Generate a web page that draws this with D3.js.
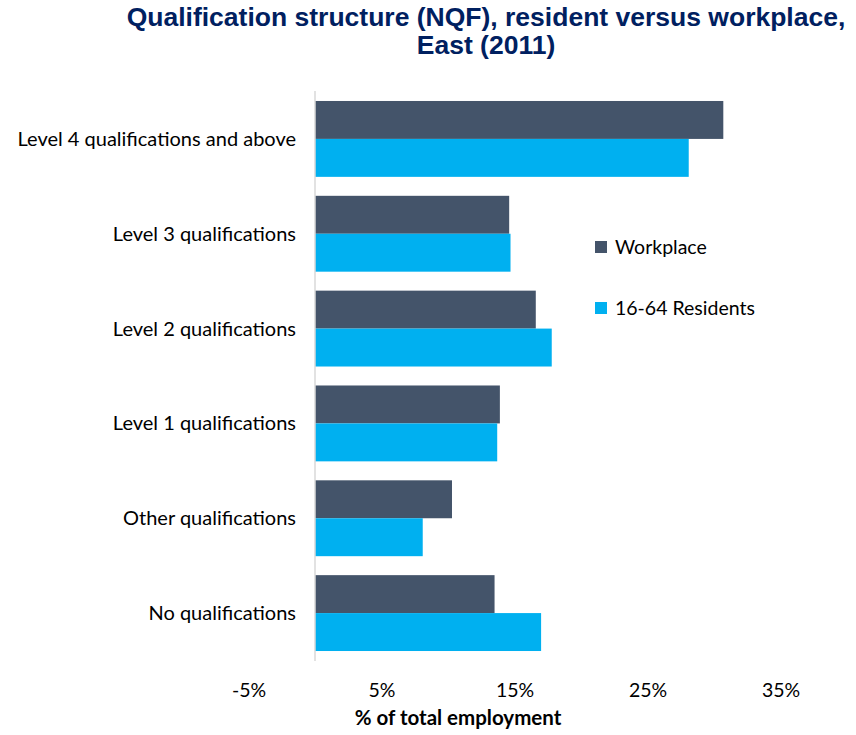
<!DOCTYPE html>
<html>
<head>
<meta charset="utf-8">
<script src="https://cdn.jsdelivr.net/npm/d3@7"></script>
<style>
  body { margin: 0; background: #fff; }
  text { font-family: Lato, "Open Sans", sans-serif; }
</style>
</head>
<body>
<div id="chart"></div>
<script>
// categories top to bottom
var categories = ["Level 4 qualifications and above", "Level 3 qualifications",
    "Level 2 qualifications", "Level 1 qualifications",
    "Other qualifications", "No qualifications"];
var series = ["Workplace", "16-64 Residents"];
var workplace = [30.7, 14.6, 16.6, 13.9, 10.3, 13.5];
var residents = [28.1, 14.7, 17.8, 13.7, 8.1, 17.0];
var tickValues = [-5, 5, 15, 25, 35];

var colors = {"Workplace": "#44546A", "16-64 Residents": "#00B0F0"};

var width = 856, height = 735;
var svg = d3.select("#chart").append("svg")
    .attr("width", width)
    .attr("height", height);

// title
var title = svg.append("text")
    .attr("text-anchor", "middle")
    .style("font-family", "'Liberation Sans', Arial, sans-serif")
    .style("font-weight", "bold")
    .style("font-size", "26.5px")
    .attr("fill", "#002060");
title.append("tspan").attr("x", 486).attr("y", 26)
    .text("Qualification structure (NQF), resident versus workplace,");
title.append("tspan").attr("x", 486).attr("y", 54)
    .text("East (2011)");

var x = d3.scaleLinear().domain([-5, 35]).range([248.5, 780.5]);
var y = d3.scaleBand().domain(categories).range([91.5, 660.5])
    .paddingInner(0.2).paddingOuter(0.1);
var ySub = d3.scaleBand().domain(series).range([0, y.bandwidth()]);

var rows = categories.map(function(c, i) {
    return {cat: c, values: [
        {key: "Workplace", value: workplace[i]},
        {key: "16-64 Residents", value: residents[i]}
    ]};
});

var groups = svg.append("g").selectAll("g")
    .data(rows).enter().append("g")
    .attr("transform", function(d) { return "translate(0," + y(d.cat) + ")"; });

groups.selectAll("rect")
    .data(function(d) { return d.values; })
    .enter().append("rect")
    .attr("x", x(0))
    .attr("y", function(d) { return ySub(d.key); })
    .attr("width", function(d) { return x(d.value) - x(0); })
    .attr("height", ySub.bandwidth())
    .attr("fill", function(d) { return colors[d.key]; });

// vertical axis line at 0
svg.append("line")
    .attr("x1", x(0)).attr("x2", x(0))
    .attr("y1", 91).attr("y2", 661)
    .attr("stroke", "#d9d9d9")
    .attr("stroke-width", 1.5);

// category labels
svg.append("g").selectAll("text")
    .data(categories).enter().append("text")
    .attr("x", 296)
    .attr("y", function(d) { return y(d) + y.bandwidth() / 2; })
    .attr("dy", "0.35em")
    .attr("text-anchor", "end")
    .style("font-size", "20px")
    .attr("fill", "#000")
    .text(function(d) { return d; });

// x axis
var xAxis = d3.axisBottom(x)
    .tickValues(tickValues)
    .tickSize(0)
    .tickFormat(function(d) { return d + "%"; });
var gx = svg.append("g")
    .attr("transform", "translate(0,680)")
    .call(xAxis);
gx.select(".domain").remove();
gx.selectAll("text")
    .style("font-family", "Lato, 'Open Sans', sans-serif")
    .style("font-size", "19.5px")
    .attr("fill", "#000");

svg.append("text")
    .attr("x", 458).attr("y", 725)
    .attr("text-anchor", "middle")
    .style("font-size", "20.5px")
    .style("font-weight", "bold")
    .attr("fill", "#000")
    .text("% of total employment");

// legend
var legend = svg.append("g").selectAll("g")
    .data(series).enter().append("g")
    .attr("transform", function(d, i) { return "translate(595," + (247 + i * 61) + ")"; });
legend.append("rect")
    .attr("x", 0).attr("y", -6)
    .attr("width", 12).attr("height", 12)
    .attr("fill", function(d) { return colors[d]; });
legend.append("text")
    .attr("x", 20).attr("y", 0)
    .attr("dy", "0.35em")
    .style("font-size", "19.5px")
    .attr("fill", "#000")
    .text(function(d) { return d; });
</script>
</body>
</html>
